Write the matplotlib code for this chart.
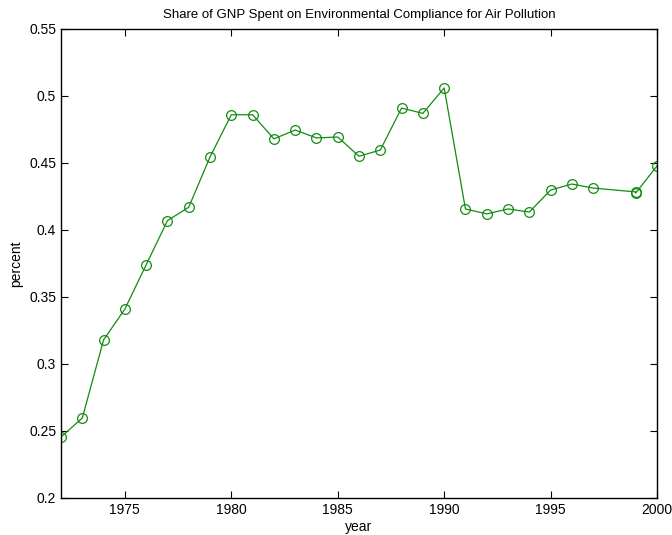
import matplotlib
matplotlib.use('Agg')
import matplotlib.pyplot as plt

years = [1972, 1973, 1974, 1975, 1976, 1977, 1978, 1979, 1980, 1981,
         1982, 1983, 1984, 1985, 1986, 1987, 1988, 1989, 1990, 1991,
         1992, 1993, 1994, 1995, 1996, 1997, 1999, 1999, 2000]
share = [0.2455, 0.2597, 0.318, 0.341, 0.374, 0.407, 0.417, 0.4545, 0.486, 0.486,
         0.468, 0.4746, 0.4687, 0.4694, 0.455, 0.4597, 0.491, 0.487, 0.506, 0.4157,
         0.412, 0.4157, 0.4134, 0.4298, 0.4343, 0.4313, 0.4284, 0.4276, 0.4478]

plt.rcParams['font.family'] = ['Liberation Sans', 'DejaVu Sans']
plt.rcParams['font.size'] = 9

fig = plt.figure(figsize=(6.72, 5.35), dpi=100)
ax = fig.add_axes([0.0908, 0.0692, 0.8869, 0.8766])

ax.plot(years, share, color='#108c10', linewidth=0.9, marker='o', markersize=7,
        markerfacecolor='none', markeredgecolor='#108c10', markeredgewidth=0.9)

ax.set_xlim(1972, 2000)
ax.set_ylim(0.2, 0.55)
ax.set_xticks([1975, 1980, 1985, 1990, 1995, 2000])
ax.set_yticks([0.2, 0.25, 0.3, 0.35, 0.4, 0.45, 0.5, 0.55])
ax.set_yticklabels(['0.2', '0.25', '0.3', '0.35', '0.4', '0.45', '0.5', '0.55'])
ax.tick_params(direction='in', top=True, right=True, length=5, width=0.8, labelsize=10)
for s in ax.spines.values():
    s.set_linewidth(1.0)

ax.set_xlabel('year', fontsize=10, labelpad=2)
ax.set_ylabel('percent', fontsize=10, labelpad=4)
ax.set_title('Share of GNP Spent on Environmental Compliance for Air Pollution', fontsize=9.5, pad=8)

fig.savefig('out.png', dpi=100)
